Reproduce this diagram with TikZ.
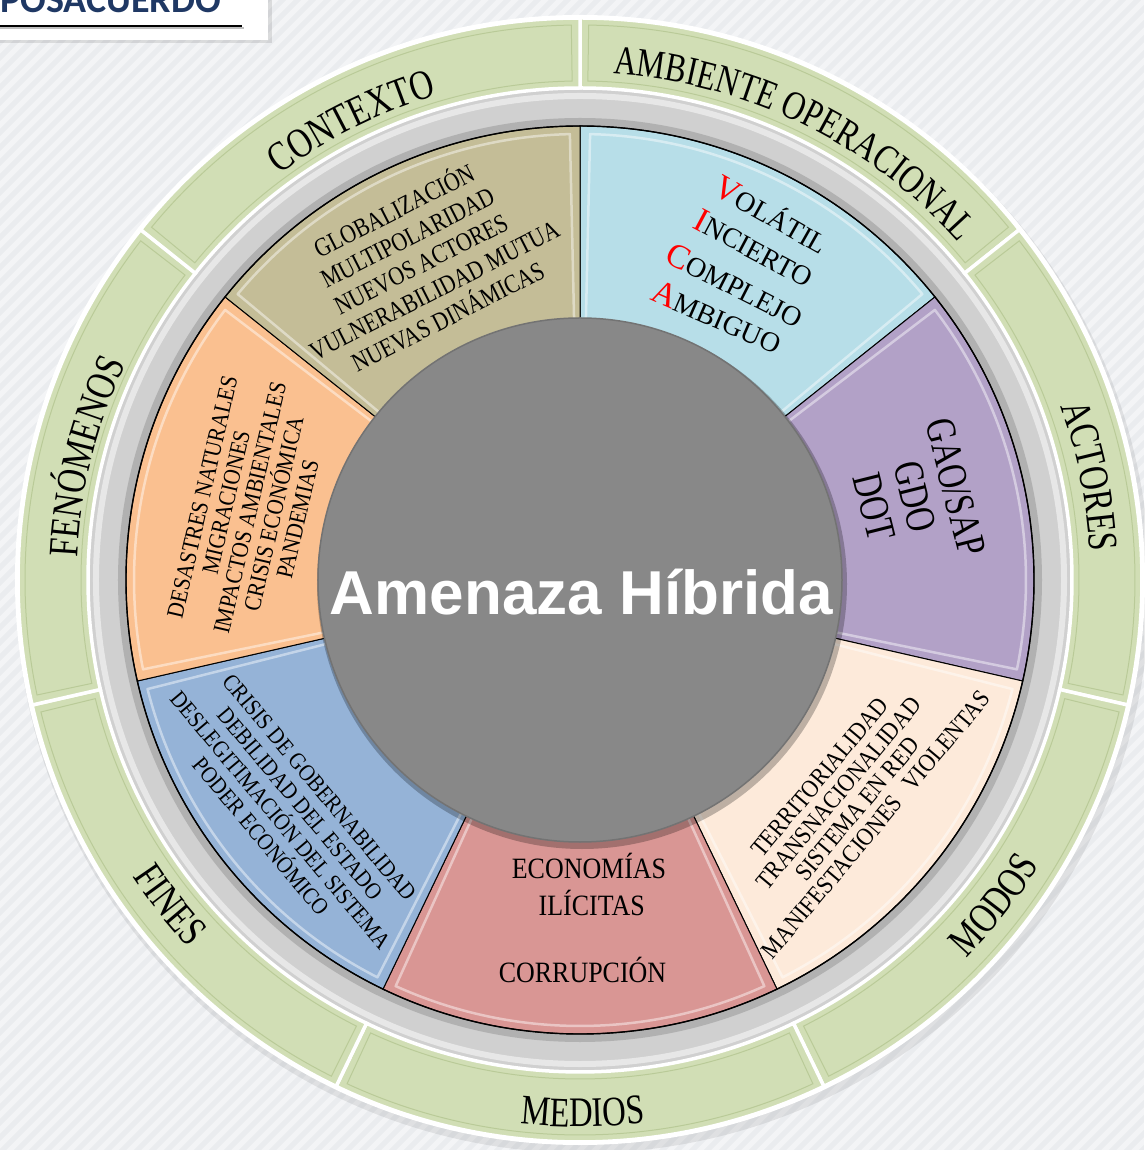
\documentclass[tikz,border=0pt]{standalone}
\usepackage{fontspec}
\setmainfont{Liberation Serif}
\newfontfamily\lsr{Liberation Serif}[FakeStretch=0.78]
\newfontfamily\lsm{Liberation Serif}[FakeStretch=0.82]
\newfontfamily\lsn{Liberation Serif}[FakeStretch=0.88]
\newfontfamily\titlefont{Liberation Sans}
\newfontfamily\headfont{Carlito}
\usetikzlibrary{decorations.text}

\definecolor{bgc}{RGB}{234,236,239}
\definecolor{ringgreen}{RGB}{209,222,181}
\definecolor{ringedge}{RGB}{176,194,140}
\definecolor{bandgray}{RGB}{208,208,208}
\definecolor{ctan}{RGB}{196,189,151}
\definecolor{cvica}{RGB}{183,222,232}
\definecolor{cpurple}{RGB}{178,161,199}
\definecolor{cpeach}{RGB}{253,234,218}
\definecolor{cred}{RGB}{217,150,148}
\definecolor{cblue}{RGB}{149,179,215}
\definecolor{corange}{RGB}{250,192,144}
\definecolor{ccenter}{RGB}{136,136,136}
\definecolor{headblue}{RGB}{31,56,100}

\newcommand\ringlab{\lsr\fontsize{42}{44}\selectfont}
\newcommand\ringlabs{\lsr\fontsize{40.5}{44}\selectfont}

\tikzset{
  ringtext/.style={decorate, decoration={text along path, text={|\ringlab|#1}, text align=center}},
  ringtextsmall/.style={decorate, decoration={text along path, text={|\ringlabs|#1}, text align=center}},
  sectortext/.style={align=center, inner sep=0pt},
  bigfirst/.style={inner sep=0pt, font=\fontsize{28}{30}\selectfont}
}

\begin{document}
\begin{tikzpicture}[x=1pt,y=1pt]
\useasboundingbox (-580,-570) rectangle (564,580);
% background
\fill[bgc] (-580,-570) rectangle (564,580);
\begin{scope}
  \clip (-580,-570) rectangle (564,580);
  \foreach \k in {-1800,-1785,...,600}
    \draw[white,line width=5pt,opacity=.45] (\k,-600) -- ++(1200,1200);
\end{scope}

% header box
\fill[black,opacity=.10] (-580,537) rectangle (-308,580);
\fill[white] (-580,540) rectangle (-312,580);
\draw[black,opacity=.25,line width=2pt] (-580,551.5) -- (-336,551.5);
\draw[black,line width=1.6pt] (-580,554) -- (-338,554);
\node (head) at (-580,567) [anchor=base west, inner sep=0pt, text=headblue,
  font=\headfont\bfseries\fontsize{38}{38}\selectfont] {POSACUERDO};

% ring base
\fill[black,opacity=.08] (3,-6) circle (567pt);
\fill[white] (0,0) circle (565pt);
\fill[bandgray] (0,0) circle (492pt);
\draw[white,opacity=.5,line width=6pt] (0,0) circle (484pt);
\draw[black,opacity=.15,line width=8pt] (0,0) circle (458pt);

% green segments
\foreach \i in {0,...,6}{
  \pgfmathsetmacro\a{90-360/7*\i}
  \pgfmathsetmacro\b{90-360/7*(\i+1)}
  \pgfmathsetmacro\c{\a-0.9}
  \pgfmathsetmacro\d{\b+0.9}
  \filldraw[fill=ringgreen, draw=white, line width=3.5pt]
    (\a:492pt) -- (\a:562pt) arc[start angle=\a, end angle=\b, radius=562pt]
    -- (\b:492pt) arc[start angle=\b, end angle=\a, radius=492pt] -- cycle;
  \draw[ringedge, line width=1pt, opacity=.7]
    (\c:499pt) -- (\c:555pt) arc[start angle=\c, end angle=\d, radius=555pt]
    -- (\d:499pt) arc[start angle=\d, end angle=\c, radius=499pt] -- cycle;
}

% inner sectors
\foreach \i/\col in {0/cvica,1/cpurple,2/cpeach,3/cred,4/cblue,5/corange,6/ctan}{
  \pgfmathsetmacro\a{90-360/7*\i}
  \pgfmathsetmacro\b{90-360/7*(\i+1)}
  \pgfmathsetmacro\c{\a-1.3}
  \pgfmathsetmacro\d{\b+1.3}
  \filldraw[fill=\col, draw=black, line width=1pt]
    (0,0) -- (\a:454pt) arc[start angle=\a, end angle=\b, radius=454pt] -- cycle;
  \draw[white, opacity=.45, line width=2.5pt, line join=round]
    (\c:262pt) -- (\c:446pt) arc[start angle=\c, end angle=\d, radius=446pt] -- (\d:262pt);
}
\draw[black, line width=1.4pt] (0,0) circle (454pt);

% center circle
\fill[black,opacity=.25] (2,-4) circle (265pt);
\filldraw[fill=ccenter, draw=black!55, line width=1.5pt] (0,0) circle (262pt);
\node (title) at (1.5,-35) [anchor=base, inner sep=0pt, text=white,
  font=\titlefont\bfseries\fontsize{62}{62}\selectfont] {Amenaza Híbrida};

% ring labels
\path[ringtext=CONTEXTO] (146.5:505pt) arc[start angle=146.5, end angle=86.5, radius=505pt];
\path[ringtextsmall=AMBIENTE OPERACIONAL] (96:507pt) arc[start angle=96, end angle=32, radius=507pt];
\path[ringtext=ACTORES] (41.5:511pt) arc[start angle=41.5, end angle=-18.5, radius=511pt];
\path[ringtext=MODOS] (-68.1:541pt) arc[start angle=-68.1, end angle=-8.1, radius=541pt];
\path[ringtext=MEDIOS] (-119.7:547pt) arc[start angle=-119.7, end angle=-59.7, radius=547pt];
\path[ringtext=FINES] (188.4:537pt) arc[start angle=188.4, end angle=248.4, radius=537pt];
\path[ringtext=FENÓMENOS] (196:503pt) arc[start angle=196, end angle=136, radius=503pt];

% sector texts
\node (ctx) at (-160,318) [sectortext, rotate=27, font=\lsm\fontsize{26.3}{29.7}\selectfont]
  {GLOBALIZACIÓN\\MULTIPOLARIDAD\\NUEVOS ACTORES\\VULNERABILIDAD MUTUA\\NUEVAS DINÁMICAS};

\node (v1) at (192,366) [bigfirst, rotate=-29.5] {{\color{red}\fontsize{34}{34}\selectfont V}OLÁTIL};
\node (v2) at (174,332) [bigfirst, rotate=-28] {{\color{red}\fontsize{34}{34}\selectfont I}NCIERTO};
\node (v3) at (155,295) [bigfirst, rotate=-27] {{\color{red}\fontsize{34}{34}\selectfont C}OMPLEJO};
\node (v4) at (137,263) [bigfirst, rotate=-23.6] {{\color{red}\fontsize{34}{34}\selectfont A}MBIGUO};

\node (gao) at (335,83) [sectortext, rotate=-76, font=\lsr\fontsize{42}{42}\selectfont]
  {GAO/SAP\\GDO\\DOT};

\node (modos) at (268,-221) [sectortext, rotate=50, font=\lsn\fontsize{25}{24.5}\selectfont]
  {TERRITORIALIDAD\\TRANSNACIONALIDAD\\SISTEMA EN RED\\MANIFESTACIONES\hspace{0.6em}VIOLENTAS};

\node (eco1) at (9,-298) [anchor=base, inner sep=0pt, font=\lsn\fontsize{29.5}{30}\selectfont] {ECONOMÍAS};
\node (eco2) at (11.7,-335) [anchor=base, inner sep=0pt, font=\lsn\fontsize{29.5}{30}\selectfont] {ILÍCITAS};
\node (eco3) at (2.5,-402) [anchor=base, inner sep=0pt, font=\lsn\fontsize{29.5}{30}\selectfont] {CORRUPCIÓN};

\node (fines) at (-290,-232) [sectortext, rotate=-50, font=\lsn\fontsize{23.5}{25.5}\selectfont]
  {CRISIS DE GOBERNABILIDAD\\DEBILIDAD DEL ESTADO\\DESLEGITIMACIÓN DEL SISTEMA\\PODER ECONÓMICO};

\node (fen) at (-330,72) [sectortext, rotate=77, font=\lsn\fontsize{24}{24.5}\selectfont]
  {DESASTRES NATURALES\\MIGRACIONES\\IMPACTOS AMBIENTALES\\CRISIS ECONÓMICA\\PANDEMIAS};
\end{tikzpicture}
\end{document}
